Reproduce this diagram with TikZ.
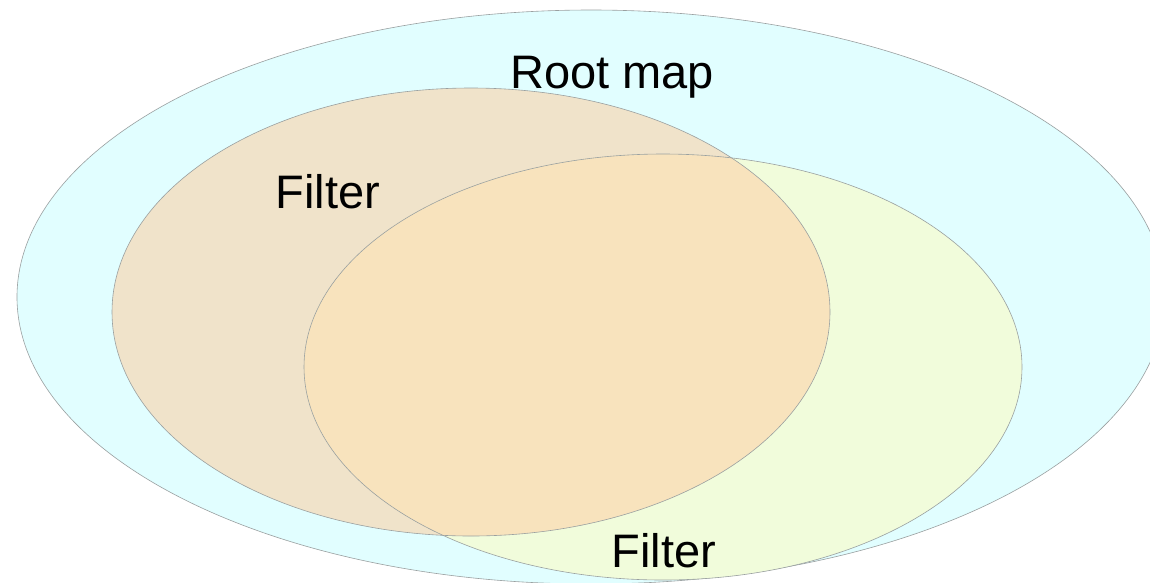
\documentclass[tikz,border=0pt]{standalone}
\usepackage{fontspec}
\setmainfont{Liberation Sans}
\definecolor{rootc}{HTML}{E1FEFF}
\definecolor{leftc}{HTML}{F0E3CA}
\definecolor{rightc}{HTML}{F1FCDB}
\definecolor{bothc}{HTML}{F8E3BD}
\definecolor{edgec}{HTML}{9AA0A0}
\tikzset{
  region/.style={draw=edgec, line width=0.6pt},
  lbl/.style={anchor=base, font=\fontsize{47}{50}\selectfont, text=black, inner sep=0pt}
}
\begin{document}
\begin{tikzpicture}[x=1pt,y=-1pt]
\useasboundingbox (0,0) rectangle (1150,582);
\fill[white] (0,0) rectangle (1150,582);
% root map
\path[region, fill=rootc] (591,297) ellipse [x radius=574, y radius=287];
% left filter
\path[fill=leftc] (471,312) ellipse [x radius=359, y radius=224];
% right filter
\path[fill=rightc] (663,367) ellipse [x radius=359, y radius=213];
% overlap
\begin{scope}
  \clip (471,312) ellipse [x radius=359, y radius=224];
  \fill[bothc] (663,367) ellipse [x radius=359, y radius=213];
\end{scope}
\draw[region] (471,312) ellipse [x radius=359, y radius=224];
\draw[region] (663,367) ellipse [x radius=359, y radius=213];
\node[lbl] (root) at (612,88) {Root map};
\node[lbl] (f1) at (328,208) {Filter};
\node[lbl] (f2) at (664,567) {Filter};
\end{tikzpicture}
\end{document}
